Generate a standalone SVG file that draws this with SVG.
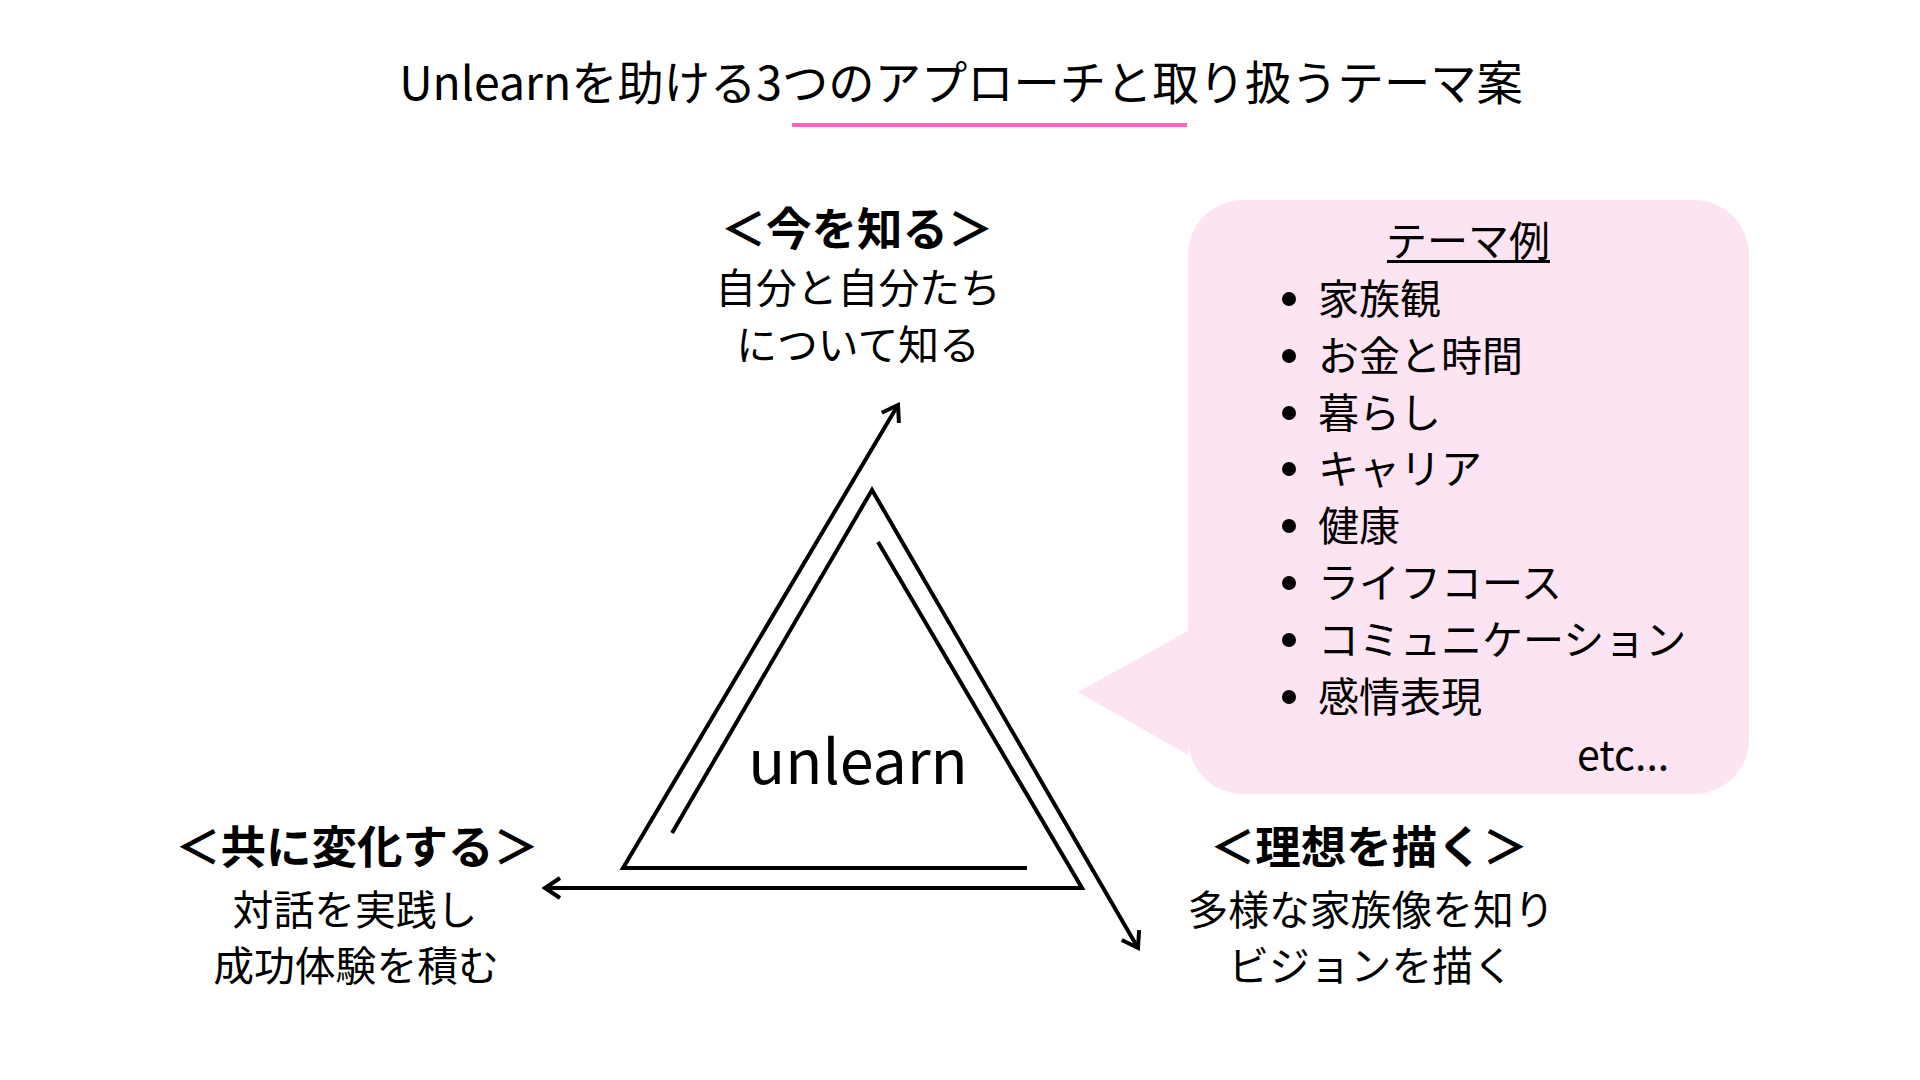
<svg xmlns="http://www.w3.org/2000/svg" width="1920" height="1080" viewBox="0 0 1920 1080">
  <style>
    text { font-family: "Noto Sans CJK JP", "Noto Sans", sans-serif; fill: #000; }
    .title { font-size: 46.3px; }
    .head { font-size: 45.5px; font-weight: bold; text-anchor: middle; }
    .sub { font-size: 40.8px; text-anchor: middle; }
    .item { font-size: 41px; }
    .line { fill: none; stroke: #000; stroke-width: 4; stroke-linejoin: miter; }
  </style>
  <defs>
    <marker id="arrow" markerUnits="userSpaceOnUse" markerWidth="30" markerHeight="30" refX="0" refY="0" viewBox="-20 -15 25 30" orient="auto" overflow="visible">
      <path d="M -15 -10 L 0 0 L -15 10" fill="none" stroke="#000" stroke-width="4"/>
    </marker>
  </defs>
  <rect width="1920" height="1080" fill="#fff"/>

  <g id="title">
    <text class="title" x="961" y="100" text-anchor="middle">Unlearnを助ける3つのアプローチと取り扱うテーマ案</text>
    <rect x="792" y="123" width="395" height="4" fill="#ff66c4"/>
  </g>

  <g id="connectors">
    <polyline class="line" points="672,833 872,490 1138,948" marker-end="url(#arrow)"/>
    <polyline class="line" points="1027,868 623,868 898,405" marker-end="url(#arrow)"/>
    <polyline class="line" points="878,542 1082,888 545,888" marker-end="url(#arrow)"/>
  </g>

  <g id="center">
    <text x="858" y="784" font-size="61" text-anchor="middle">unlearn</text>
  </g>

  <g id="node-now">
    <text class="head" x="857" y="246">＜今を知る＞</text>
    <text class="sub" x="858" y="303">自分と自分たち</text>
    <text class="sub" x="858" y="360">について知る</text>
  </g>

  <g id="node-change">
    <text class="head" x="357" y="864">＜共に変化する＞</text>
    <text class="sub" x="355" y="925">対話を実践し</text>
    <text class="sub" x="356" y="981">成功体験を積む</text>
  </g>

  <g id="node-ideal">
    <text class="head" x="1369" y="864">＜理想を描く＞</text>
    <text class="sub" x="1371" y="925">多様な家族像を知り</text>
    <text class="sub" x="1371" y="981">ビジョンを描く</text>
  </g>

  <g id="node-themes">
    <path d="M 1243 200 L 1694 200 A 55 55 0 0 1 1749 255 L 1749 739 A 55 55 0 0 1 1694 794 L 1243 794 A 55 55 0 0 1 1188 739 L 1188 755 L 1078 692 L 1188 631 L 1188 255 A 55 55 0 0 1 1243 200 Z" fill="#fde4f2"/>
    <text x="1468" y="256" font-size="41" text-anchor="middle">テーマ例</text>
    <rect x="1387" y="260" width="163" height="3" fill="#000"/>
    <g>
      <circle cx="1289" cy="299" r="7"/>
      <circle cx="1289" cy="356" r="7"/>
      <circle cx="1289" cy="413" r="7"/>
      <circle cx="1289" cy="469" r="7"/>
      <circle cx="1289" cy="526" r="7"/>
      <circle cx="1289" cy="583" r="7"/>
      <circle cx="1289" cy="640" r="7"/>
      <circle cx="1289" cy="697" r="7"/>
    </g>
    <text class="item" x="1318" y="314">家族観</text>
    <text class="item" x="1318" y="371">お金と時間</text>
    <text class="item" x="1318" y="428">暮らし</text>
    <text class="item" x="1318" y="484">キャリア</text>
    <text class="item" x="1318" y="541">健康</text>
    <text class="item" x="1318" y="598">ライフコース</text>
    <text class="item" x="1318" y="655">コミュニケーション</text>
    <text class="item" x="1318" y="712">感情表現</text>
    <text class="item" x="1577" y="770">etc...</text>
  </g>
</svg>
